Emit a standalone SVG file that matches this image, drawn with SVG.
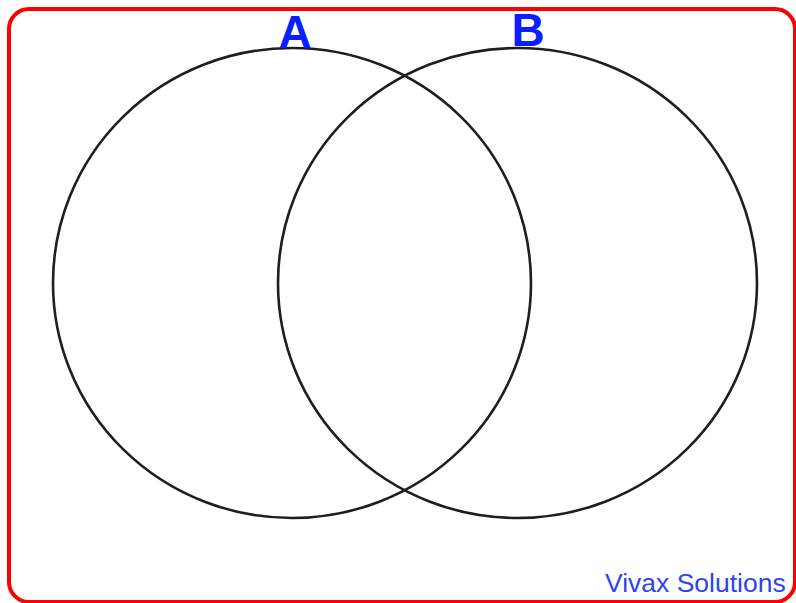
<svg xmlns="http://www.w3.org/2000/svg" width="796" height="603" viewBox="0 0 796 603">
<style>
.set{fill:none;stroke:#1e1e1e;stroke-width:2.6}
.lbl{font-family:"Liberation Sans",Arial,sans-serif;font-weight:bold;font-size:46px;fill:#0a1eff;text-anchor:middle}
.brand{font-family:"Liberation Sans",Arial,sans-serif;font-size:26.5px;fill:#2e44f5}
</style>
<rect x="9" y="9" width="786" height="593" rx="20" ry="20" fill="#ffffff" stroke="#ff0000" stroke-width="4"/>
<g id="setA">
<ellipse class="set" cx="292" cy="283" rx="239" ry="235"/>
<text class="lbl" x="295" y="48">A</text>
</g>
<g id="setB">
<ellipse class="set" cx="517.5" cy="283" rx="239.5" ry="235"/>
<text class="lbl" x="528" y="46">B</text>
</g>
<g id="connectors"></g>
<text class="brand" x="605" y="592">Vivax Solutions</text>
</svg>
